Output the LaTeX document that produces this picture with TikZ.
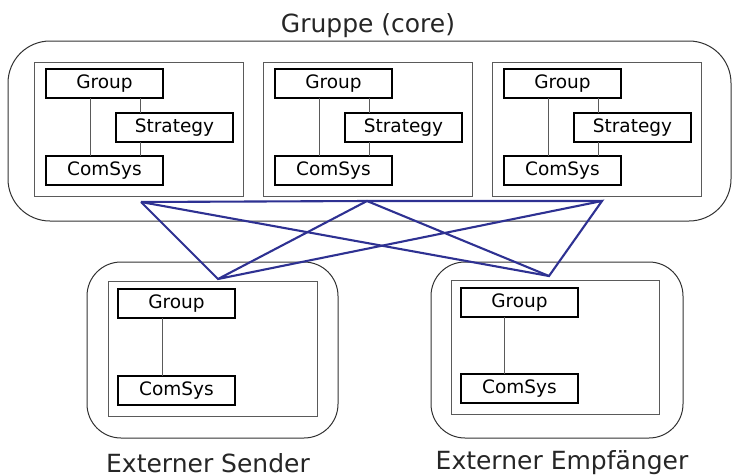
\documentclass[tikz,border=0pt]{standalone}
\usepackage{fontspec}
\setmainfont{DejaVu Sans}
\definecolor{netblue}{RGB}{46,49,146}
\definecolor{framegray}{RGB}{90,90,90}
\definecolor{hullgray}{RGB}{50,50,50}
\begin{document}
\begin{tikzpicture}[x=1pt,y=-1pt,
  hull/.style={draw=hullgray,line width=1pt,rounded corners=42pt},
  smallhull/.style={draw=hullgray,line width=1pt,rounded corners=34pt},
  frame/.style={draw=framegray,line width=1pt,inner sep=0pt,outer sep=0pt},
  comp/.style={draw=black,line width=2pt,inner sep=0pt,outer sep=0pt,
    minimum width=117pt,minimum height=29pt,
    font=\fontsize{18.5}{20}\selectfont},
  link/.style={draw=framegray,line width=1pt},
  net/.style={draw=netblue,line width=2.1pt,line join=miter},
  caption/.style={font=\fontsize{25}{28}\selectfont,text=black!85,anchor=base,inner sep=0pt}]
\useasboundingbox (0,0) rectangle (732,475);

% group hull with three members
\draw[hull] (8,41) rectangle (731,221);
\node[caption] (lcore) at (368,32) {Gruppe (core)};
\foreach \i/\fx in {1/34,2/263,3/492}{
  \node[frame,minimum width=209pt,minimum height=134pt,anchor=north west] (f\i) at (\fx,62) {};
  \node[comp,anchor=north west] (g\i) at (\fx+12,69) {Group};
  \node[comp,anchor=north west] (s\i) at (\fx+82,113) {Strategy};
  \node[comp,anchor=north west] (c\i) at (\fx+12,156) {ComSys};
  \path ([xshift=44pt]g\i.south west) coordinate (gc\i);
  \path ([xshift=24pt]s\i.north west) coordinate (gs\i);
  \draw[link] (gc\i) -- (gc\i |- c\i.north);
  \draw[link] (gs\i) -- (gs\i |- g\i.south);
  \draw[link] (gs\i |- s\i.south) -- (gs\i |- c\i.north);
}

% external sender
\draw[smallhull] (87,262) rectangle (338,438);
\node[frame,minimum width=209pt,minimum height=135pt,anchor=north west] (fs) at (108,281) {};
\node[comp,anchor=north west] (gS) at (118,289) {Group};
\node[comp,anchor=north west] (cS) at (118,376) {ComSys};
\path ([xshift=44pt]gS.south west) coordinate (gcS);
\draw[link] (gcS) -- (gcS |- cS.north);
\node[caption] (lsend) at (208,472) {Externer Sender};

% external receiver
\draw[smallhull] (431,262) rectangle (683,438);
\node[frame,minimum width=208pt,minimum height=134pt,anchor=north west] (fr) at (451,280) {};
\node[comp,anchor=north west] (gR) at (461,288) {Group};
\node[comp,anchor=north west] (cR) at (461,374) {ComSys};
\path ([xshift=43pt]gR.south west) coordinate (gcR);
\draw[link] (gcR) -- (gcR |- cR.north);
\node[caption] (lrecv) at (562,469) {Externer Empfänger};

% communication links
\coordinate (t1) at (141,202);
\coordinate (t2) at (367,201);
\coordinate (t3) at (602,201);
\coordinate (ps) at (218,279);
\coordinate (pr) at (549,276);
\draw[net] (t1) -- (t2) -- (t3);
\draw[net] (t1) -- (ps) -- (t2) -- (pr) -- (t3) -- (ps);
\draw[net] (t1) -- (pr);
\end{tikzpicture}
\end{document}
